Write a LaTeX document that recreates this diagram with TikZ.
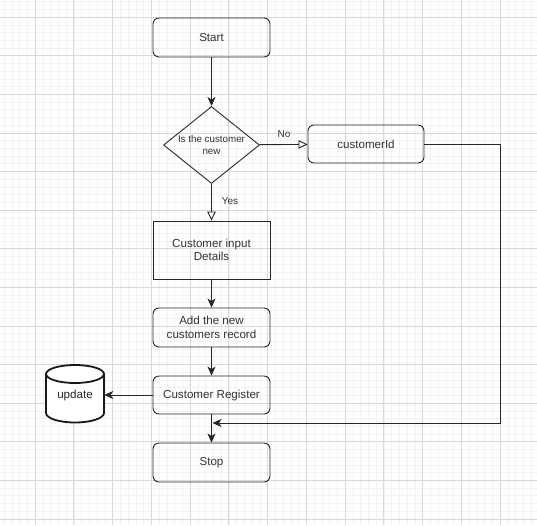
\documentclass[tikz,border=0pt]{standalone}
\usepackage{fontspec}
\setmainfont{Liberation Sans}
\usetikzlibrary{arrows.meta,shapes.geometric}
\begin{document}
\begin{tikzpicture}[x=1pt,y=-1pt,
  box/.style={draw=black!85, line width=0.9pt, minimum width=117pt, inner sep=0pt,
    font=\fontsize{11.6}{13.5}\selectfont, text=black!80, align=center},
  rbox/.style={box, rounded corners=6pt},
  lbl/.style={font=\fontsize{10}{12}\selectfont, text=black!80, inner sep=0pt},
  conn/.style={draw=black!85, line width=0.9pt},
  classic/.style={conn, -{Stealth[length=9pt,width=8pt,inset=2.5pt]}},
  openarr/.style={conn, -{Triangle[open,length=9pt,width=8.5pt,fill=white]}},
  minorgrid/.style={draw=black!5, line width=0.5pt},
  majorgrid/.style={draw=black!15, line width=0.6pt}
]
\useasboundingbox (0,0) rectangle (537,525);
\fill[white] (0,0) rectangle (537,525);
% grid
\foreach \i in {0,...,68} {\draw[minorgrid] ({4+7.75*\i},0) -- ({4+7.75*\i},525);}
\foreach \i in {0,...,67} {\draw[minorgrid] (0,{1.6+7.72*\i}) -- (537,{1.6+7.72*\i});}
\foreach \i in {0,...,13} {\draw[majorgrid] ({35+38.75*\i},0) -- ({35+38.75*\i},525);}
\foreach \i in {0,...,13} {\draw[majorgrid] (0,{17+38.6*\i}) -- (537,{17+38.6*\i});}

% nodes
\node[rbox, minimum height=39pt] (start) at (211.5,37.5) {Start};
\node[draw=black!85, line width=0.9pt, shape=diamond, aspect=1.25, minimum width=96pt,
      minimum height=77pt, inner sep=0pt, align=center, text=black!80,
      font=\fontsize{9.8}{12.5}\selectfont] (q) at (211.5,145) {Is the customer\\new};
\node[rbox, minimum width=116pt, minimum height=38pt] (cid) at (366,144) {customerId};
\node[box, minimum height=58pt] (inp) at (211.5,250) {Customer input\\Details};
\node[rbox, minimum height=39pt] (add) at (211.5,327.5) {Add the new\\customers record};
\node[rbox, minimum height=38pt] (reg) at (211.5,395) {Customer Register};
\node[rbox, minimum height=39pt] (stop) at (211.5,462.5) {Stop};

% cylinder
\draw[black!90, line width=1.8pt, fill=white]
  (46,374) -- (46,413) arc[start angle=180, end angle=360, x radius=29pt, y radius=9.5pt]
  -- (104,374) arc[start angle=0, end angle=180, x radius=29pt, y radius=9pt]
  arc[start angle=180, end angle=360, x radius=29pt, y radius=9pt];
\node[minimum width=58pt, minimum height=58pt, inner sep=0pt, text=black!85,
      font=\fontsize{11.6}{13.5}\selectfont] (upd) at (75,395) {update};

% labels
\node[lbl] (no) at (284,134) {No};
\node[lbl] (yes) at (230,201) {Yes};

% connectors
\draw[classic] (start) -- (q);
\draw[openarr] (q) -- (cid);
\draw[openarr] (q) -- (inp);
\draw[classic] (inp) -- (add);
\draw[classic] (add) -- (reg);
\draw[classic] (reg) -- (upd);
\draw[classic] (reg) -- (stop);
\coordinate (m) at (212.5,423);
\draw[classic] (cid.east) -- (500,144) -- (500,423) -- (m);
\end{tikzpicture}
\end{document}
